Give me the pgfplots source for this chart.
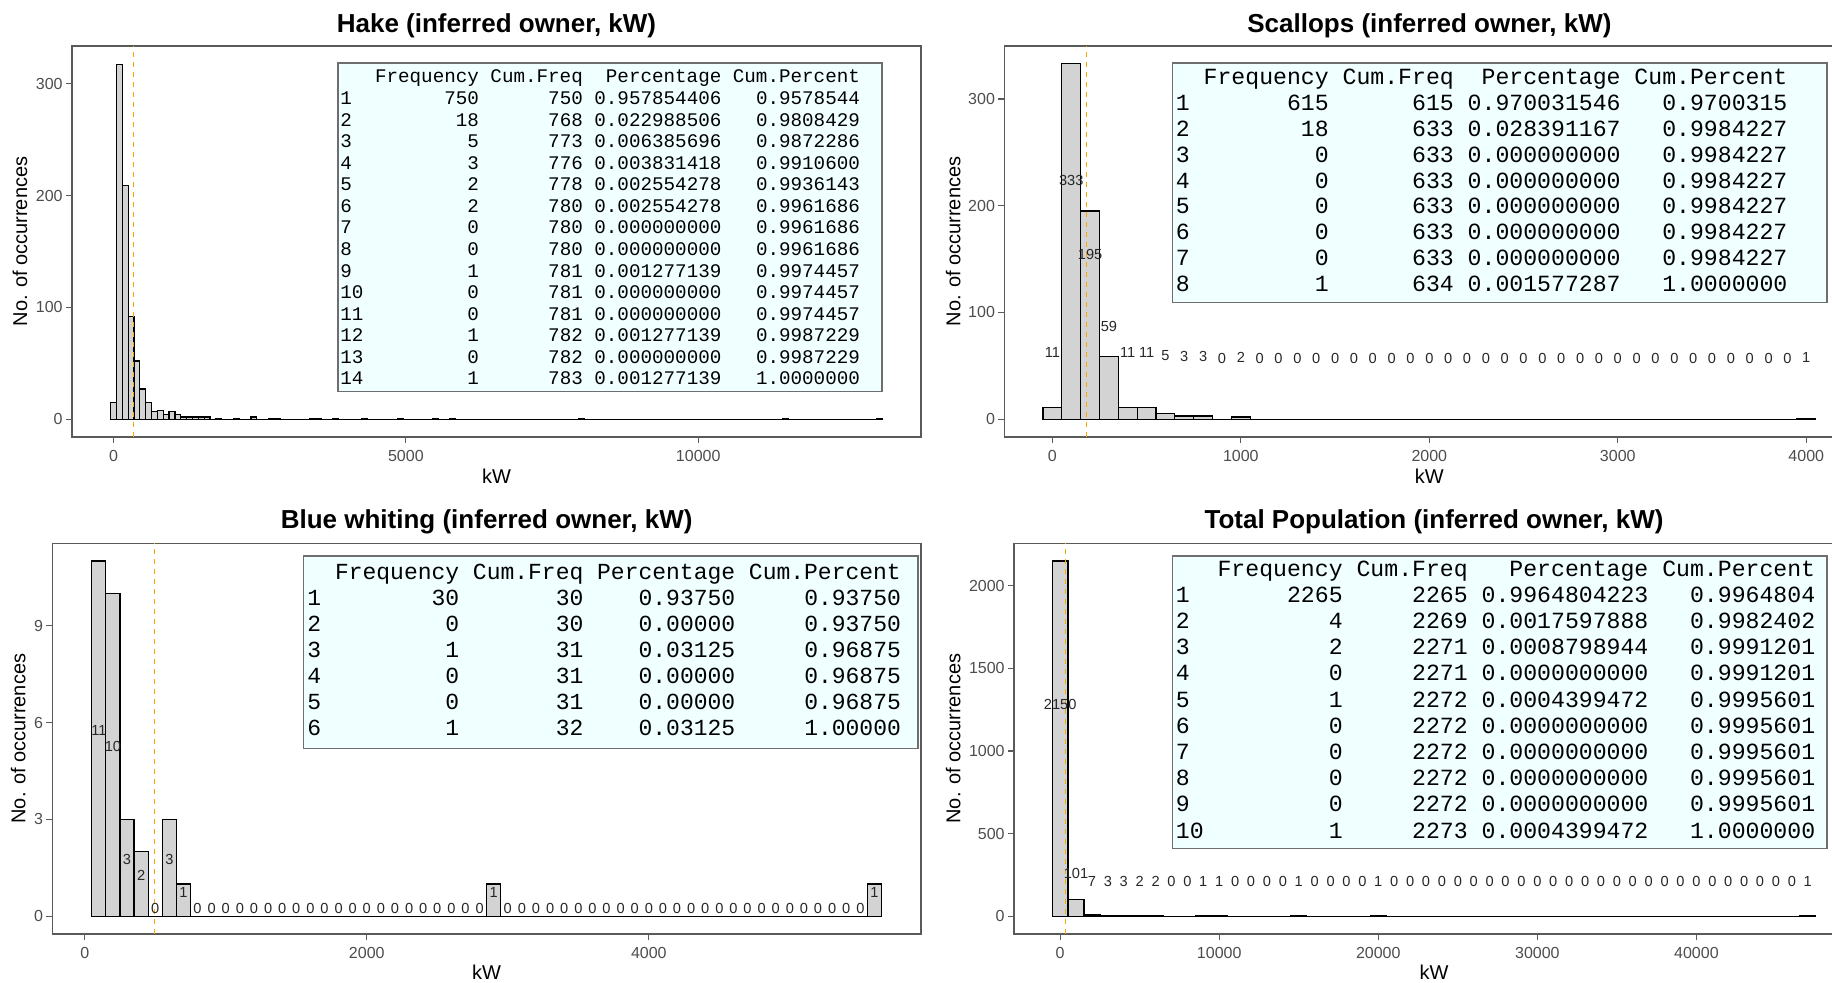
\documentclass[border=0pt]{standalone}
\usepackage{pgfplots}
\pgfplotsset{compat=1.18}
\usepackage{fontspec}
\setmainfont{Liberation Sans}
\setmonofont{Liberation Mono}
\definecolor{barfill}{RGB}{211,211,211}
\definecolor{tickgray}{RGB}{77,77,77}
\definecolor{framegray}{RGB}{90,90,90}
\definecolor{tablebg}{RGB}{240,255,255}
\definecolor{tableframe}{RGB}{110,110,110}
\definecolor{vline}{RGB}{255,165,0}
\pgfplotsset{
  panel/.style={
    scale only axis,
    axis line style={draw=framegray, line width=0.7pt},
    tick pos=left,
    tick align=outside,
    major tick length=3pt,
    tick style={draw=framegray, line width=0.6pt},
    ticklabel style={font=\fontsize{8}{9}\selectfont, text=tickgray, inner sep=1.5pt},
    xticklabel style={yshift=-1.8pt},
    /pgf/number format/assume math mode=true,
    /pgf/number format/1000 sep={},
    scaled ticks=false,
    title style={font=\bfseries\fontsize{13}{15}\selectfont, anchor=base},
    xlabel style={font=\fontsize{10}{12}\selectfont, anchor=base},
    ylabel style={font=\fontsize{10}{12}\selectfont, anchor=center},
  },
  bars/.style={ybar, bar width=#1, bar shift=0pt, fill=barfill, draw=black, line width=0.6pt},
  base/.style={black, line width=0.6pt, mark=none},
  mean/.style={vline, dash pattern=on 2.5pt off 2.5pt, line width=0.6pt, mark=none},
  counts/.style={draw=none, mark=none, nodes near coords, point meta=explicit symbolic,
    every node near coord/.append style={anchor=center, font=\fontsize{7.3}{8}\selectfont, text=black!85, inner sep=0pt}},
}
\begin{document}
\begin{tikzpicture}
\useasboundingbox (0,0) rectangle (916pt,-491.5pt);

% ---------------- Hake ----------------
\begin{axis}[panel,
  at={(36pt,-218.5pt)}, anchor=south west,
  width=424.5pt, height=195.5pt,
  xmin=-710, xmax=13810, ymin=-15.9, ymax=333.9,
  xtick={0,5000,10000}, ytick={0,100,200,300},
  title={Hake (inferred owner, kW)}, title style={at={(0.5,1)}, yshift=0.65pt},
  xlabel={kW}, xlabel style={at={(0.5,0)}, yshift=-23.25pt},
  ylabel={No. of occurrences}, ylabel style={at={(-0.06125,0.5)}},
]
\addplot[base] coordinates {(-50,0) (13150,0)};
\addplot[bars=100] coordinates {
(0,15) (100,317) (200,209) (300,92) (400,52) (500,27) (600,15) (700,7) (800,8)
(900,4) (1000,7) (1100,4) (1200,2) (1300,2) (1400,2) (1500,2) (1600,2) (1800,1)
(2100,1) (2400,2) (2700,1) (2800,1) (3400,1) (3500,1) (3800,1) (4300,1) (4900,1)
(5500,1) (5800,1) (8000,1) (11500,1) (13100,1)};
\addplot[mean] coordinates {(342,-15.9) (342,333.9)};
\end{axis}

% ---------------- Scallops ----------------
\begin{axis}[panel,
  at={(502.15pt,-218.5pt)}, anchor=south west,
  width=417.85pt, height=195.5pt,
  xmin=-255, xmax=4179, ymin=-16.65, ymax=349.65,
  xtick={0,1000,2000,3000,4000}, ytick={0,100,200,300},
  title={Scallops (inferred owner, kW)}, title style={at={(0.5087,1)}, yshift=0.65pt},
  xlabel={kW}, xlabel style={at={(0.5087,0)}, yshift=-23.25pt},
  ylabel={No. of occurrences}, ylabel style={at={(-0.0610,0.5)}},
]
\addplot[base] coordinates {(-50,0) (4050,0)};
\addplot[bars=100] coordinates {
(0,11) (100,333) (200,195) (300,59) (400,11) (500,11) (600,5) (700,3) (800,3)
(1000,2) (4000,1)};
\addplot[mean] coordinates {(179,-16.65) (179,349.65)};
\addplot[counts] coordinates {
(0,62.5) [11] (100,223.5) [333] (200,154.5) [195] (300,86.5) [59] (400,62.5) [11]
(500,62.5) [11] (600,59.5) [5] (700,58.5) [3] (800,58.5) [3] (900,57) [0] (1000,58) [2]
(1100,57) [0] (1200,57) [0] (1300,57) [0] (1400,57) [0] (1500,57) [0] (1600,57) [0]
(1700,57) [0] (1800,57) [0] (1900,57) [0] (2000,57) [0] (2100,57) [0] (2200,57) [0]
(2300,57) [0] (2400,57) [0] (2500,57) [0] (2600,57) [0] (2700,57) [0] (2800,57) [0]
(2900,57) [0] (3000,57) [0] (3100,57) [0] (3200,57) [0] (3300,57) [0] (3400,57) [0]
(3500,57) [0] (3600,57) [0] (3700,57) [0] (3800,57) [0] (3900,57) [0] (4000,57.5) [1]};
\end{axis}

% ---------------- Blue whiting ----------------
\begin{axis}[panel,
  at={(26.15pt,-467pt)}, anchor=south west,
  width=434.35pt, height=195.35pt,
  xmin=-230, xmax=5930, ymin=-0.55, ymax=11.55,
  xtick={0,2000,4000}, ytick={0,3,6,9},
  title={Blue whiting (inferred owner, kW)}, title style={at={(0.5,1)}, yshift=1.25pt},
  xlabel={kW}, xlabel style={at={(0.5,0)}, yshift=-22.5pt},
  ylabel={No. of occurrences}, ylabel style={at={(-0.0391,0.5)}},
]
\addplot[base] coordinates {(50,0) (5650,0)};
\addplot[bars=100] coordinates {
(100,11) (200,10) (300,3) (400,2) (600,3) (700,1) (2900,1) (5600,1)};
\addplot[mean] coordinates {(493,-0.55) (493,11.55)};
\addplot[counts] coordinates {
(100,5.75) [11] (200,5.25) [10] (300,1.75) [3] (400,1.25) [2] (500,0.25) [0]
(600,1.75) [3] (700,0.75) [1]
(800,0.25) [0] (900,0.25) [0] (1000,0.25) [0] (1100,0.25) [0] (1200,0.25) [0]
(1300,0.25) [0] (1400,0.25) [0] (1500,0.25) [0] (1600,0.25) [0] (1700,0.25) [0]
(1800,0.25) [0] (1900,0.25) [0] (2000,0.25) [0] (2100,0.25) [0] (2200,0.25) [0]
(2300,0.25) [0] (2400,0.25) [0] (2500,0.25) [0] (2600,0.25) [0] (2700,0.25) [0]
(2800,0.25) [0] (2900,0.75) [1]
(3000,0.25) [0] (3100,0.25) [0] (3200,0.25) [0] (3300,0.25) [0] (3400,0.25) [0]
(3500,0.25) [0] (3600,0.25) [0] (3700,0.25) [0] (3800,0.25) [0] (3900,0.25) [0]
(4000,0.25) [0] (4100,0.25) [0] (4200,0.25) [0] (4300,0.25) [0] (4400,0.25) [0]
(4500,0.25) [0] (4600,0.25) [0] (4700,0.25) [0] (4800,0.25) [0] (4900,0.25) [0]
(5000,0.25) [0] (5100,0.25) [0] (5200,0.25) [0] (5300,0.25) [0] (5400,0.25) [0]
(5500,0.25) [0] (5600,0.75) [1]};
\end{axis}

% ---------------- Total Population ----------------
\begin{axis}[panel,
  at={(507pt,-467pt)}, anchor=south west,
  width=413pt, height=195.35pt,
  xmin=-2900, xmax=49027, ymin=-107.5, ymax=2257.5,
  xtick={0,10000,20000,30000,40000}, ytick={0,500,1000,1500,2000},
  title={Total Population (inferred owner, kW)}, title style={at={(0.5085,1)}, yshift=1.25pt},
  xlabel={kW}, xlabel style={at={(0.5085,0)}, yshift=-22.5pt},
  ylabel={No. of occurrences}, ylabel style={at={(-0.0735,0.5)}},
]
\addplot[base] coordinates {(-500,0) (47500,0)};
\addplot[bars=1000] coordinates {
(0,2150) (1000,101) (2000,7) (3000,3) (4000,3) (5000,2) (6000,2) (9000,1)
(10000,1) (15000,1) (20000,1) (47000,1)};
\addplot[mean] coordinates {(333,-107.5) (333,2257.5)};
\addplot[counts] coordinates {
(0,1283) [2150] (1000,258.5) [101] (2000,211.5) [7] (3000,209.5) [3] (4000,209.5) [3]
(5000,209) [2] (6000,209) [2] (7000,208) [0] (8000,208) [0] (9000,208.5) [1]
(10000,208.5) [1] (11000,208) [0] (12000,208) [0] (13000,208) [0] (14000,208) [0]
(15000,208.5) [1] (16000,208) [0] (17000,208) [0] (18000,208) [0] (19000,208) [0]
(20000,208.5) [1] (21000,208) [0] (22000,208) [0] (23000,208) [0] (24000,208) [0]
(25000,208) [0] (26000,208) [0] (27000,208) [0] (28000,208) [0] (29000,208) [0]
(30000,208) [0] (31000,208) [0] (32000,208) [0] (33000,208) [0] (34000,208) [0]
(35000,208) [0] (36000,208) [0] (37000,208) [0] (38000,208) [0] (39000,208) [0]
(40000,208) [0] (41000,208) [0] (42000,208) [0] (43000,208) [0] (44000,208) [0]
(45000,208) [0] (46000,208) [0] (47000,208.5) [1]};
\end{axis}

% ---------------- frequency tables ----------------
\draw[draw=tableframe, fill=tablebg, line width=0.75pt] (169pt,-31.5pt) rectangle (441pt,-195.85pt);
\node[anchor=base west, inner sep=0pt, text=black, font=\ttfamily\fontsize{9.62}{10.78}\selectfont] at (170pt,-41.5pt) {%
\begin{tabular}[t]{@{}l@{\hspace{0.6em}}r@{\hspace{0.6em}}r@{\hspace{0.6em}}r@{\hspace{0.6em}}r@{}}
 & Frequency & Cum.Freq & Percentage & Cum.Percent\\
1 & 750 & 750 & 0.957854406 & 0.9578544\\
2 & 18 & 768 & 0.022988506 & 0.9808429\\
3 & 5 & 773 & 0.006385696 & 0.9872286\\
4 & 3 & 776 & 0.003831418 & 0.9910600\\
5 & 2 & 778 & 0.002554278 & 0.9936143\\
6 & 2 & 780 & 0.002554278 & 0.9961686\\
7 & 0 & 780 & 0.000000000 & 0.9961686\\
8 & 0 & 780 & 0.000000000 & 0.9961686\\
9 & 1 & 781 & 0.001277139 & 0.9974457\\
10 & 0 & 781 & 0.000000000 & 0.9974457\\
11 & 0 & 781 & 0.000000000 & 0.9974457\\
12 & 1 & 782 & 0.001277139 & 0.9987229\\
13 & 0 & 782 & 0.000000000 & 0.9987229\\
14 & 1 & 783 & 0.001277139 & 1.0000000
\end{tabular}};

\draw[draw=tableframe, fill=tablebg, line width=0.75pt] (586.35pt,-31.5pt) rectangle (913.5pt,-151.15pt);
\node[anchor=base west, inner sep=0pt, text=black, font=\ttfamily\fontsize{11.58}{12.93}\selectfont] at (587.75pt,-42.35pt) {%
\begin{tabular}[t]{@{}l@{\hspace{0.6em}}r@{\hspace{0.6em}}r@{\hspace{0.6em}}r@{\hspace{0.6em}}r@{}}
 & Frequency & Cum.Freq & Percentage & Cum.Percent\\
1 & 615 & 615 & 0.970031546 & 0.9700315\\
2 & 18 & 633 & 0.028391167 & 0.9984227\\
3 & 0 & 633 & 0.000000000 & 0.9984227\\
4 & 0 & 633 & 0.000000000 & 0.9984227\\
5 & 0 & 633 & 0.000000000 & 0.9984227\\
6 & 0 & 633 & 0.000000000 & 0.9984227\\
7 & 0 & 633 & 0.000000000 & 0.9984227\\
8 & 1 & 634 & 0.001577287 & 1.0000000
\end{tabular}};

\draw[draw=tableframe, fill=tablebg, line width=0.75pt] (151.65pt,-278pt) rectangle (459pt,-374.15pt);
\node[anchor=base west, inner sep=0pt, text=black, font=\ttfamily\fontsize{11.5}{12.95}\selectfont] at (153.5pt,-290pt) {%
\begin{tabular}[t]{@{}l@{\hspace{0.6em}}r@{\hspace{0.6em}}r@{\hspace{0.6em}}r@{\hspace{0.6em}}r@{}}
 & Frequency & Cum.Freq & Percentage & Cum.Percent\\
1 & 30 & 30 & 0.93750 & 0.93750\\
2 & 0 & 30 & 0.00000 & 0.93750\\
3 & 1 & 31 & 0.03125 & 0.96875\\
4 & 0 & 31 & 0.00000 & 0.96875\\
5 & 0 & 31 & 0.00000 & 0.96875\\
6 & 1 & 32 & 0.03125 & 1.00000
\end{tabular}};

\draw[draw=tableframe, fill=tablebg, line width=0.75pt] (586.35pt,-278pt) rectangle (913.5pt,-424.15pt);
\node[anchor=base west, inner sep=0pt, text=black, font=\ttfamily\fontsize{11.58}{13.1}\selectfont] at (587.75pt,-288.1pt) {%
\begin{tabular}[t]{@{}l@{\hspace{0.6em}}r@{\hspace{0.6em}}r@{\hspace{0.6em}}r@{\hspace{0.6em}}r@{}}
 & Frequency & Cum.Freq & Percentage & Cum.Percent\\
1 & 2265 & 2265 & 0.9964804223 & 0.9964804\\
2 & 4 & 2269 & 0.0017597888 & 0.9982402\\
3 & 2 & 2271 & 0.0008798944 & 0.9991201\\
4 & 0 & 2271 & 0.0000000000 & 0.9991201\\
5 & 1 & 2272 & 0.0004399472 & 0.9995601\\
6 & 0 & 2272 & 0.0000000000 & 0.9995601\\
7 & 0 & 2272 & 0.0000000000 & 0.9995601\\
8 & 0 & 2272 & 0.0000000000 & 0.9995601\\
9 & 0 & 2272 & 0.0000000000 & 0.9995601\\
10 & 1 & 2273 & 0.0004399472 & 1.0000000
\end{tabular}};
\end{tikzpicture}
\end{document}
